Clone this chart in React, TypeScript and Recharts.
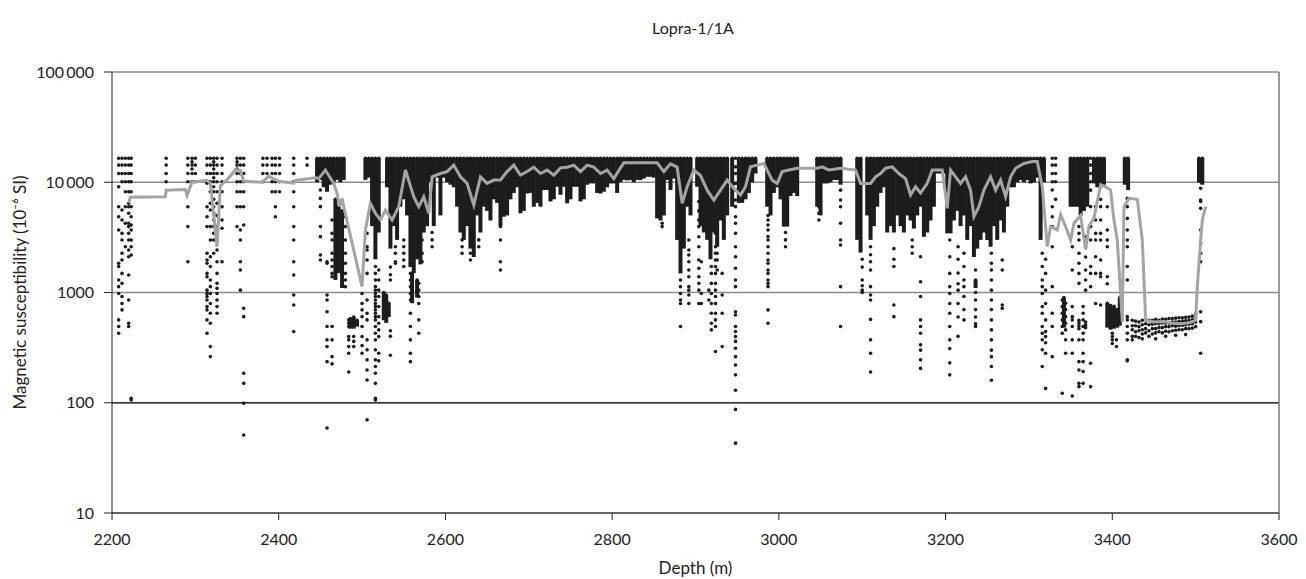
import React from 'react';
import { ComposedChart, Scatter, Line, XAxis, YAxis, CartesianGrid, ErrorBar, ReferenceLine } from 'recharts';

const xTicks = [2200, 2400, 2600, 2800, 3000, 3200, 3400, 3600];
const yTicks = [10, 100, 1000, 10000, 100000];

// saturated readings sit at the instrument cap
const CAP = 16500;

// dense columns running from the cap down to a bottom value
const capDepth = [
  2446, 2450, 2454, 2458, 2462, 2466, 2470, 2474, 2478,
  2504, 2508, 2512, 2516, 2520,
  2530, 2534, 2538, 2542, 2546, 2550, 2554, 2558, 2562, 2566, 2570, 2574, 2578, 2582, 2586, 2590, 2594, 2598,
  2602, 2606, 2610, 2614, 2618, 2622, 2626, 2630, 2634, 2638, 2642, 2646, 2650, 2654, 2658, 2662, 2666, 2670,
  2674, 2678, 2682, 2686, 2690, 2694, 2698, 2702, 2706, 2710, 2714, 2718, 2722, 2726, 2730, 2734, 2738, 2742,
  2746, 2750, 2754, 2758, 2762, 2766, 2770, 2774, 2778, 2782, 2786, 2790, 2794, 2798, 2802, 2806, 2810, 2814,
  2818, 2822, 2826, 2830, 2834, 2838, 2842, 2846, 2850, 2854, 2858, 2862, 2866, 2870, 2874, 2878, 2882, 2886,
  2890, 2894, 2902, 2906, 2910, 2914, 2918, 2922, 2926, 2930, 2934, 2938, 2944, 2952, 2956, 2960, 2964, 2968, 2972,
  2986, 2990, 2994, 2998, 3002, 3006, 3010, 3014, 3018, 3022,
  3046, 3050, 3054, 3058, 3062, 3066, 3070, 3074, 3094, 3098, 3106, 3110, 3114, 3118, 3122, 3126,
  3130, 3134, 3138, 3142, 3146, 3150, 3154, 3158, 3162, 3166, 3170, 3174, 3178, 3182, 3186, 3190, 3194, 3198,
  3202, 3206, 3210, 3214, 3218, 3222, 3226, 3230, 3234, 3238, 3242, 3246, 3250, 3254, 3258, 3262, 3266, 3270,
  3274, 3278, 3282, 3286, 3290, 3294, 3298, 3302, 3306, 3310, 3314, 3318,
  3350, 3354, 3358, 3362, 3366, 3370, 3378, 3382, 3386, 3390, 3415, 3419, 3504, 3508,
];
const capBottom = [
  10000, 10500, 9000, 8200, 9500, 10000, 10500, 10000, 10500,
  10500, 11000, 4000, 2000, 3500,
  9000, 2500, 4000, 3000, 6000, 7000, 5000, 1700, 1500, 2000, 1800, 3500, 4000, 10000, 4000, 11000, 5000, 11000,
  10000, 9500, 9000, 6000, 3500, 3000, 4000, 2500, 2100, 5000, 3500, 6000, 5500, 4500, 7000, 6500, 4000, 4870,
  5000, 7000, 8000, 9000, 5230, 5500, 7900, 8000, 6000, 6500, 6000, 8500, 8500, 6700, 7000, 9100, 7700, 9100,
  6440, 7000, 9100, 9100, 6700, 7000, 9500, 9760, 9760, 8000, 7900, 8200, 9000, 9760, 9760, 8000, 10000, 10500,
  10400, 10460, 10000, 10500, 10460, 10800, 11200, 11200, 11000, 4700, 4500, 5000, 10500, 8500, 10800, 3000, 1490, 2500,
  6000, 5000, 9100, 4000, 3500, 3000, 2000, 3500, 2600, 4500, 3000, 5000, 6000, 6500, 6500, 7000, 8000, 10000, 12000,
  6000, 5000, 8000, 9000, 7000, 3960, 3960, 7500, 8000, 7500,
  6000, 5000, 9760, 9760, 10000, 10500, 10500, 9500, 3000, 2300, 5000, 3000, 4000, 6000, 8000, 9000,
  3500, 4000, 3500, 5000, 4000, 3500, 5000, 4500, 3800, 5000, 6000, 3200, 3500, 4500, 6000, 12000, 12000, 12000,
  3440, 3440, 4500, 5500, 4000, 5000, 3000, 4000, 2100, 2500, 3000, 3500, 2990, 2600, 4000, 3000, 4500, 3500,
  6000, 9000, 9000, 10000, 10460, 10000, 10460, 9760, 10000, 11000, 3000, 10000,
  6000, 6000, 6000, 5000, 5500, 6000, 9760, 9000, 9000, 9500, 9500, 8500, 10000, 9500,
];

// dense clusters that sit below the cap
const clusterDepth = [2468, 2472, 2476, 2486, 2490, 2494, 2526, 2529, 2532, 2560, 2566, 3236, 3342, 3394, 3398, 3402, 3406, 3409];
const clusterTop = [7000, 6000, 5500, 580, 600, 560, 1000, 950, 800, 1490, 1300, 1300, 900, 800, 760, 750, 700, 900];
const clusterBottom = [1300, 1500, 1100, 470, 470, 490, 560, 530, 600, 800, 900, 1100, 480, 480, 460, 470, 480, 500];

// single readings, grouped by depth
const dotDepth = [
  2208, 2212, 2216, 2220, 2223, 2265, 2291, 2296, 2300, 2314, 2318, 2322, 2326, 2332, 2350, 2354, 2358,
  2381, 2386, 2392, 2396, 2401, 2418, 2434,
  2450, 2458, 2464, 2480, 2484, 2490, 2500, 2506, 2516, 2520, 2534, 2540, 2550, 2558, 2568, 2572, 2584,
  2620, 2630, 2640, 2666, 2860, 2882, 2892, 2904, 2907, 2916, 2919, 2924, 2926, 2932, 2948, 2987, 3008,
  3048, 3074, 3100, 3110, 3138, 3160, 3170, 3205, 3215, 3222, 3236, 3255, 3268, 3316, 3320, 3328, 3332,
  3340, 3344, 3352, 3360, 3365, 3368, 3374, 3380, 3386, 3394, 3400, 3405, 3418, 3506,
];
const dotValues = [
  [16500, 14300, 12000, 9100, 6000, 4870, 3690, 1840, 1720, 1300, 1130, 980, 564, 491, 427],
  [16500, 14300, 12000, 10100, 5610, 4550, 3440, 2990, 2270, 1970, 1490, 1210, 920, 795, 695],
  [16500, 14300, 12000, 10100, 8200, 6000, 4250, 2600],
  [16500, 14300, 12000, 10100, 8200, 6440, 6000, 5230, 4250, 3960, 3440, 2990, 2430, 2110, 1440, 855, 526, 491],
  [16500, 14300, 12000, 10100, 8200, 6000, 4870, 4100, 3690, 2990, 2600, 2190, 110, 106],
  [16500, 14300, 12000, 10100],
  [16500, 14300, 12000, 10100, 6000, 3960, 1900],
  [16500, 15300, 14300, 13200, 12000, 10100],
  [16500, 14300, 12000, 10100],
  [16500, 14300, 12000, 9800, 6000, 4870, 3960, 2270, 1970, 1840, 1490, 1390, 1050, 980, 920, 855, 745, 695, 564, 427],
  [16500, 14300, 12000, 10100, 8200, 6440, 5600, 3960, 2990, 2110, 1720, 1300, 1130, 980, 795, 648, 526, 323, 262],
  [16500, 15300, 14300, 13200, 12000, 11000, 10100, 9100, 8200, 7000, 6000, 5230, 4550, 3960, 3440, 2990, 2270],
  [16500, 14300, 12000, 10100, 8200, 6440, 5000, 3960, 3000, 2430, 1900, 1490, 1210, 1090, 980, 855, 745, 648],
  [16500, 14300, 12000, 10100, 8200, 6000, 4550, 3830, 1900],
  [16500, 15300, 14300, 13200, 12000, 10100, 8200, 6000, 3960],
  [16500, 14300, 12000, 10100, 8200, 6000, 3690, 2990, 1900, 1600, 1050],
  [16500, 14300, 12000, 10100, 8200, 6000, 4100, 718, 604, 185, 150, 99, 51],
  [16500, 14300, 12000, 10100],
  [16500, 14300, 12000],
  [16500, 14300, 12000, 10100, 8200],
  [16500, 14300, 12000, 10100, 8200, 6000, 4870],
  [16500, 14300, 12000, 10100, 8200],
  [16500, 14300, 12000, 10100, 8200, 6000, 3960, 2990, 1900, 1440, 950, 770, 442],
  [16500, 14300],
  [8500, 7140, 6010, 3960, 3210, 2190, 1970],
  [1900, 1840, 950, 855, 670, 491, 372, 323, 236, 59],
  [4550, 3440, 2990, 2270, 1970, 1720, 1490, 1390, 491, 372, 262, 225],
  [4870, 3960, 2990, 2270, 1840, 1490, 1300, 1130],
  [564, 526, 491, 398, 372, 323, 281, 190],
  [398, 360, 323],
  [980, 795, 695, 604, 491, 398, 330, 281],
  [3440, 2600, 2430, 1970, 1490, 855, 648, 564, 372, 302, 245, 198, 161, 70],
  [1720, 1490, 1300, 1130, 1050, 980, 920, 855, 795, 745, 695, 648, 604, 564, 491, 427, 372, 302, 245, 213, 185, 150, 110, 106],
  [1600, 1300, 1050, 920, 745, 604, 526, 458, 398, 281, 240],
  [1700, 1450, 1300, 450, 400, 270],
  [2600, 2270, 1900, 1840],
  [2990, 2600, 2270, 1970, 1720],
  [1490, 1300, 1130, 980, 855, 648, 491, 372, 281, 236],
  [1210, 1050, 920, 795, 564, 427],
  [2990, 2270, 1900],
  [3500, 3000, 2600],
  [3000, 2600, 2270],
  [2270, 1970],
  [3000, 2600],
  [3960, 2990, 1900, 1600],
  [4250, 3960],
  [1300, 1130, 980, 855, 795, 491],
  [2990, 2430, 2190, 1900, 1600, 1390, 1130, 1050, 950, 795],
  [6700, 5500, 4550, 3960, 3200, 2600, 1970, 1660, 1390, 1210, 1050, 795],
  [1900, 980, 795],
  [1050, 855],
  [1720, 1490, 1210, 980, 795, 648, 526, 458],
  [3440, 2600, 2270, 1970, 1720, 1490, 1210, 1050, 920, 795, 648, 564, 491, 292],
  [2990, 2270, 1970, 1600],
  [1490, 950, 648, 323],
  [16500, 13800, 12000, 9760, 8480, 6900, 6010, 4870, 4250, 3440, 2600, 2110, 1660, 1300, 1130, 670, 626, 491, 442, 398, 360, 312, 262, 220, 179, 130, 87, 43],
  [5000, 4550, 4100, 3690, 3210, 2990, 2600, 2270, 1970, 1840, 1600, 1490, 1300, 1210, 1130, 695, 526],
  [3500, 3000, 2600],
  [6010, 5230, 4550],
  [8480, 6900, 6000, 4250, 2990, 2700, 1130, 491],
  [2000, 1700, 1300, 1150, 1050, 1000],
  [2600, 2200, 1900, 1600, 1130, 950, 856, 570, 372, 281, 190],
  [2500, 2000, 1720, 770, 604],
  [2990, 2600, 2270],
  [2110, 1250, 920, 564, 491, 427, 335, 300, 245, 205],
  [2990, 2110, 1490, 1130, 980, 795, 648, 491, 372, 310, 230, 179],
  [2600, 2000, 1500, 1200, 1050, 795, 600, 400],
  [2270, 1720, 1300, 1130, 920, 700, 564],
  [1600, 1000, 855, 700, 600, 520, 491],
  [2270, 1840, 1600, 1300, 1050, 855, 700, 564, 458, 372, 300, 262, 213, 160],
  [1970, 1600, 770, 720],
  [2270, 1720, 1300, 1130, 980, 745, 648, 491, 427, 372, 302, 213],
  [2000, 1490, 1050, 795, 564, 442, 398, 350, 281, 135],
  [16500, 14300, 12000, 10100, 8500, 6000, 4870, 3960, 2600, 1130, 648, 491, 262],
  [16500, 14300, 12000, 10100, 7000],
  [855, 745, 648, 564, 491, 427, 122],
  [800, 700, 604, 526, 458, 372, 281],
  [2600, 1600, 745, 604, 564, 491, 372, 281, 115],
  [3960, 3440, 2990, 2270, 1840, 1490, 1210, 560, 530, 500, 470, 372, 236, 198, 150, 140],
  [745, 648, 564, 491, 427, 372, 281, 236, 192, 150],
  [3200, 2600, 2100, 1600, 1300, 1050, 540, 510, 480],
  [16500, 14300, 12000, 10100, 8480, 6010, 3960, 2990, 1720, 1490, 1130, 228, 140],
  [6010, 4550, 3440, 2990, 2110, 1490, 795],
  [7000, 6010, 4550, 3440, 2990, 1970, 1490, 1390, 770],
  [6000, 3690, 2990, 2600, 1390, 1200],
  [427, 398, 372, 345],
  [372, 323],
  [7140, 6010, 4700, 3690, 2990, 2600, 1720, 1300, 604, 564, 491, 427, 372, 245, 240],
  [10800, 10100, 8800, 6900, 6700, 5800, 3690, 2800, 2270, 1900, 670, 544, 281],
];

// the low band near the bottom of the well
const lowBandDepth = [3424, 3428, 3432, 3436, 3440, 3444, 3448, 3452, 3456, 3460, 3464, 3468, 3472, 3476, 3480, 3484, 3488, 3492, 3496, 3500];
const lowBandValues = [
  [560, 500, 460, 400, 372], [550, 500, 440, 400], [540, 490, 450, 390], [560, 510, 460, 420, 380],
  [570, 520, 470, 430], [560, 510, 450, 400], [560, 515, 470, 420], [570, 520, 470, 430, 380],
  [560, 520, 480, 440], [575, 530, 480, 430], [570, 530, 490, 445, 400], [580, 530, 490, 440],
  [580, 540, 500, 450], [585, 540, 495, 455, 410], [590, 545, 500, 460], [590, 550, 505, 460],
  [595, 555, 510, 470, 415], [600, 560, 515, 470], [610, 565, 520, 475], [640, 590, 540, 490],
];

// running mean (grey curve)
const avgDepth = [
  2220, 2222, 2264, 2265, 2288, 2290, 2296, 2314, 2318, 2326, 2330, 2338, 2348, 2354, 2358, 2380, 2388, 2400,
  2418, 2420, 2444, 2448, 2456, 2466, 2470, 2473, 2476, 2478, 2500, 2504, 2510, 2516, 2522, 2528, 2536, 2544,
  2552, 2562, 2568, 2574, 2580, 2584, 2594, 2602, 2610, 2618, 2626, 2634, 2642, 2650, 2658, 2666, 2674, 2682,
  2690, 2698, 2706, 2714, 2722, 2730, 2738, 2746, 2754, 2762, 2770, 2778, 2786, 2794, 2802, 2810, 2814, 2842,
  2854, 2862, 2870, 2878, 2884, 2890, 2898, 2906, 2914, 2922, 2930, 2938, 2946, 2954, 2960, 2966, 2974, 2982,
  2992, 2998, 3004, 3012, 3022, 3046, 3052, 3060, 3074, 3092, 3098, 3110, 3116, 3122, 3128, 3136, 3144, 3152,
  3158, 3164, 3170, 3178, 3184, 3196, 3202, 3206, 3212, 3218, 3224, 3230, 3234, 3240, 3246, 3254, 3260, 3266,
  3272, 3278, 3284, 3294, 3304, 3310, 3316, 3322, 3326, 3334, 3338, 3344, 3350, 3354, 3362, 3368, 3372, 3378,
  3386, 3392, 3398, 3402, 3406, 3410, 3412, 3414, 3420, 3430, 3436, 3440, 3450, 3462, 3472, 3482, 3492, 3500,
  3502, 3506, 3508, 3512,
];
const avgValue = [
  6500, 7300, 7400, 8480, 8600, 7600, 10000, 10400, 9800, 2600, 9300, 10500, 13000, 12800, 10200, 10000, 11300, 10200,
  9800, 10400, 11000, 10800, 12900, 9760, 7930, 6010, 7140, 6010, 1130, 3690, 6440, 5230, 4550, 5610, 4550, 6010,
  12900, 7390, 6010, 7390, 5230, 11200, 12000, 12500, 14300, 11200, 9760, 6220, 11200, 9760, 10460, 10500, 12500, 14300,
  11600, 12500, 13700, 12000, 12900, 11600, 13500, 13700, 14300, 12500, 14300, 13700, 12000, 12900, 10800, 13500, 15000, 15000,
  15000, 12500, 14700, 13700, 6440, 9100, 12900, 11500, 8480, 6900, 8480, 10460, 8800, 7660, 9110, 13800, 14300, 14800,
  10460, 9760, 12500, 12900, 13400, 13400, 13800, 12900, 13400, 12900, 9760, 9760, 11200, 12000, 13400, 13800, 12000, 10800,
  7660, 9110, 8000, 9760, 12900, 12900, 5800, 12900, 11200, 9760, 11200, 8480, 4870, 6010, 8480, 11200, 8480, 10460,
  7390, 11200, 13400, 14800, 15400, 15400, 9110, 2600, 3960, 3690, 5100, 3960, 2990, 4250, 5000, 2450, 4000, 4700,
  9500, 9100, 8500, 4550, 2990, 980, 540, 6010, 7140, 7000, 2990, 560, 540, 545, 530, 520, 530, 560,
  1130, 3000, 4550, 6010,
];

const stackData = [
  ...capDepth.map((d, i) => ({ d, v: CAP, err: [CAP - capBottom[i], 0] })),
  ...clusterDepth.map((d, i) => ({ d, v: clusterTop[i], err: [clusterTop[i] - clusterBottom[i], 0] })),
];
const dotData = [
  ...dotDepth.flatMap((d, i) => dotValues[i].map((v) => ({ d, v }))),
  ...lowBandDepth.flatMap((d, i) => lowBandValues[i].map((v) => ({ d, v }))),
];
const avgData = avgDepth.map((d, i) => ({ d, v: avgValue[i] }));

const INK = '#1c1c1c';
const FONT = 'Lato, "Open Sans", sans-serif';

const Dot = (p: any) => <circle cx={p.cx} cy={p.cy} r={1.8} fill={INK} />;

const fmtY = (v: number) => (v >= 10000 ? v.toLocaleString('en-US').replace(/,/g, '\u2009') : String(v));

export default function App() {
  return (
    <div style={{ position: 'fixed', left: 0, top: 0, width: 1306, height: 579, background: '#fff', fontFamily: FONT }}>
      <div
        style={{
          position: 'absolute', left: 593, top: 18, width: 200, textAlign: 'center',
          fontSize: 16, lineHeight: '20px', color: '#222', fontFamily: FONT,
        }}
      >
        Lopra-1/1A
      </div>
      <ComposedChart
        width={1306}
        height={579}
        margin={{ top: 72, right: 27, bottom: 0, left: 0 }}
        style={{ fontFamily: FONT }}
      >
        <CartesianGrid vertical={false} stroke="#8a8a8a" strokeWidth={1.5} />
        <ReferenceLine y={100} stroke="#333" strokeWidth={1.3} />
        <ReferenceLine x={3600} stroke="#777" strokeWidth={1.5} />
        <XAxis
          dataKey="d"
          type="number"
          domain={[2200, 3600]}
          ticks={xTicks}
          allowDataOverflow
          height={66}
          stroke="#222"
          tickSize={7}
          tickMargin={14}
          tick={{ fontSize: 16, fill: '#222' }}
          label={{ value: 'Depth (m)', position: 'insideBottom', offset: 5, fontSize: 17, fill: '#222' }}
        />
        <YAxis
          type="number"
          scale="log"
          domain={[10, 100000]}
          ticks={yTicks}
          allowDataOverflow
          width={112}
          stroke="#222"
          tickSize={8}
          tickMargin={10}
          tickFormatter={fmtY}
          tick={{ fontSize: 16, fill: '#222' }}
          label={{
            value: 'Magnetic susceptibility (10⁻⁶ SI)',
            angle: -90,
            position: 'insideLeft',
            offset: 20,
            fontSize: 17,
            fill: '#222',
            style: { textAnchor: 'middle' },
          }}
        />
        <Scatter data={stackData} dataKey="v" shape={Dot} isAnimationActive={false}>
          <ErrorBar dataKey="err" direction="y" width={0} stroke={INK} strokeWidth={4} isAnimationActive={false} />
        </Scatter>
        <Scatter data={dotData} dataKey="v" shape={Dot} isAnimationActive={false} />
        <Line
          data={avgData}
          dataKey="v"
          type="linear"
          stroke="#a4a4a4"
          strokeWidth={3}
          dot={false}
          activeDot={false}
          isAnimationActive={false}
          zIndex={700}
        />
      </ComposedChart>
    </div>
  );
}
